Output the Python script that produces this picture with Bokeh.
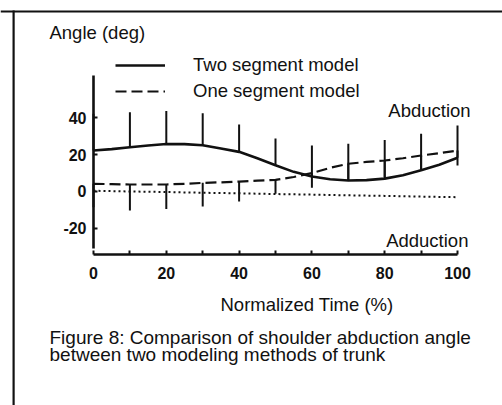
from bokeh.plotting import figure
from bokeh.models import (Range1d, LinearAxis, FixedTicker, Label, Legend, LegendItem,
                          BoxAnnotation, Span)
from bokeh.embed import file_html
from bokeh.resources import INLINE
import numpy as np

# ---- data ----
time = [0, 5, 10, 15, 20, 25, 30, 35, 40, 45, 50, 55, 60, 65, 70, 75, 80, 85, 90, 95, 100]
two_segment = [22.2, 23.0, 24.0, 25.0, 25.8, 25.7, 25.1, 23.3, 21.5, 18.0, 14.2, 10.6,
               8.1, 6.6, 5.9, 6.1, 6.9, 8.8, 11.5, 14.5, 18.3]
one_segment = [4.1, 3.9, 3.7, 3.7, 3.7, 4.1, 4.6, 4.9, 5.3, 5.8, 6.2, 7.8,
               9.9, 12.8, 15.0, 16.0, 16.8, 18.0, 19.5, 20.8, 22.2]

bar_time = [0, 10, 20, 30, 40, 50, 60, 70, 80, 90, 100]
two_segment_sd = [20.0, 19.1, 17.9, 17.5, 14.9, 14.6, 16.9, 20.0, 21.1, 19.8, 17.6]
one_segment_sd = [12.8, 14.2, 13.3, 12.9, 10.9, 7.5, 8.0, 9.0, 9.1, 7.3, 8.2]

ref_time = [0, 10, 20, 30, 40, 50, 60, 70, 80, 90, 100]
ref_line = [0.3, -0.1, -0.4, -0.8, -1.1, -1.5, -1.8, -2.2, -2.5, -2.9, -3.2]

x_ticks = [0, 20, 40, 60, 80, 100]
x_minor = [10, 30, 50, 70, 90]
y_ticks = [-20, 0, 20, 40]
y_tick_labels = {-20: "-20", 0: "0", 20: "20", 40: "40"}

FONT = "Liberation Sans"
INK = "#111111"

p = figure(width=502, height=405, output_backend="svg", toolbar_location=None,
           x_range=Range1d(-25.55, 112.36), y_range=Range1d(-116.73, 103.98),
           x_axis_type=None, y_axis_type=None, min_border=0)
p.outline_line_color = None
p.background_fill_color = "white"
p.border_fill_color = "white"

# frame border (left and top visible)
p.add_layout(Span(location=98.0, dimension="width", line_color=INK, line_width=2))
p.add_layout(BoxAnnotation(left=-22.25, right=-21.65, top=98.5, bottom=None,
                           fill_color=INK, fill_alpha=1, line_color=None))

# axes
yax = LinearAxis(fixed_location=0, bounds=(-31, 63), ticker=FixedTicker(ticks=y_ticks))
yax.major_label_overrides = y_tick_labels
yax.axis_line_width = 2.6
yax.axis_line_color = INK
yax.major_tick_in = 4
yax.major_tick_out = 0
yax.major_tick_line_width = 2
yax.major_tick_line_color = INK
yax.minor_tick_line_color = None
yax.major_label_standoff = 7
yax.major_label_text_font = FONT
yax.major_label_text_font_style = "bold"
yax.major_label_text_font_size = "16px"
yax.major_label_text_color = INK
p.add_layout(yax, "left")

xax = LinearAxis(fixed_location=-34.4, bounds=(0, 100),
                 ticker=FixedTicker(ticks=x_ticks, minor_ticks=x_minor))
xax.axis_line_width = 2.4
xax.axis_line_color = INK
xax.major_tick_in = 4
xax.major_tick_out = 0
xax.minor_tick_in = 4
xax.minor_tick_out = 0
xax.major_tick_line_width = 2
xax.minor_tick_line_width = 2
xax.major_tick_line_color = INK
xax.minor_tick_line_color = INK
xax.major_label_standoff = 13
xax.major_label_text_font = FONT
xax.major_label_text_font_style = "bold"
xax.major_label_text_font_size = "16px"
xax.major_label_text_color = INK
p.add_layout(xax, "below")

# error bars
two_at_bars = np.array(two_segment)[::2]
one_at_bars = np.array(one_segment)[::2]
p.segment(x0=bar_time, y0=two_at_bars, x1=bar_time, y1=two_at_bars + np.array(two_segment_sd),
          line_color=INK, line_width=2)
p.segment(x0=bar_time, y0=one_at_bars, x1=bar_time, y1=one_at_bars - np.array(one_segment_sd),
          line_color=INK, line_width=2)

# lines
p.line(ref_time, ref_line, line_color=INK, line_width=2, line_dash="2 3")
r_two = p.line(time, two_segment, line_color=INK, line_width=2.6)
r_one = p.line(time, one_segment, line_color=INK, line_width=2.2, line_dash="11 5")

legend = Legend(items=[LegendItem(label="Two segment model", renderers=[r_two]),
                       LegendItem(label="One segment model", renderers=[r_one])],
                location=(115, 301.5), glyph_width=50, glyph_height=26, label_height=26,
                spacing=0, padding=0, margin=0, label_standoff=28,
                border_line_color=None, background_fill_alpha=0,
                label_text_font=FONT, label_text_font_size="18.5px", label_text_color=INK)
p.add_layout(legend, "center")

def add_text(x, y, txt, align="left", size="18.5px"):
    p.add_layout(Label(x=x, y=y, text=txt, text_align=align, text_baseline="alphabetic",
                       text_font=FONT, text_font_size=size, text_color=INK))

add_text(-12.09, 86.5, "Angle (deg)")
add_text(92.3, 44.2, "Abduction", align="center")
add_text(91.7, -26.7, "Adduction", align="center")
add_text(58.65, -61.5, "Normalized Time (%)", align="center")
add_text(-12.09, -79.85, "Figure 8: Comparison of shoulder abduction angle", size="19px")
add_text(-12.09, -89.2, "between two modeling methods of trunk", size="19px")

open("out.html", "w").write(file_html(p, INLINE))
